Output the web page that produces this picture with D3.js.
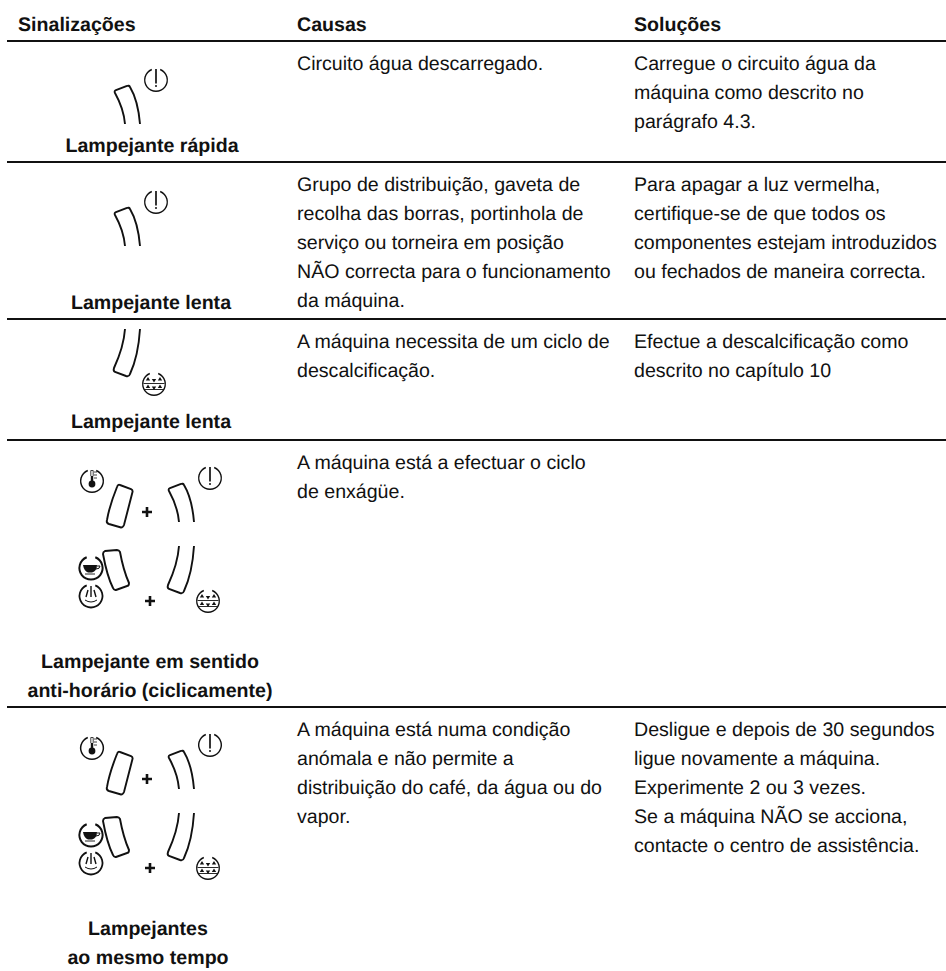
<!DOCTYPE html>
<html>
<head>
<meta charset="utf-8">
<script src="https://cdn.jsdelivr.net/npm/d3@7"></script>
<style>
html, body { margin: 0; background: #fff; }
svg { display: block; }
text { font-family: "Liberation Sans", Arial, sans-serif; fill: #111; text-rendering: geometricPrecision; }
</style>
</head>
<body>
<script>
//Width and height
var w = 946;
var h = 971;

//Table content
var headers = ["Sinalizações", "Causas", "Soluções"];
var rows = ["r1", "r2", "r3", "r4", "r5"];
var signals = [
    ["Lampejante rápida"],
    ["Lampejante lenta"],
    ["Lampejante lenta"],
    ["Lampejante em sentido", "anti-horário (ciclicamente)"],
    ["Lampejantes", "ao mesmo tempo"]
];
var causes = [
    ["Circuito água descarregado."],
    ["Grupo de distribuição, gaveta de", "recolha das borras, portinhola de", "serviço ou torneira em posição", "NÃO correcta para o funcionamento", "da máquina."],
    ["A máquina necessita de um ciclo de", "descalcificação."],
    ["A máquina está a efectuar o ciclo", "de enxágüe."],
    ["A máquina está numa condição", "anómala e não permite a", "distribuição do café, da água ou do", "vapor."]
];
var solutions = [
    ["Carregue o circuito água da", "máquina como descrito no", "parágrafo 4.3."],
    ["Para apagar a luz vermelha,", "certifique-se de que todos os", "componentes estejam introduzidos", "ou fechados de maneira correcta."],
    ["Efectue a descalcificação como", "descrito no capítulo 10"],
    [],
    ["Desligue e depois de 30 segundos", "ligue novamente a máquina.", "Experimente 2 ou 3 vezes.", "Se a máquina NÃO se acciona,", "contacte o centro de assistência."]
];
//Which symbols each row shows
var rowSymbols = [
    ["lampNE", "warn"],
    ["lampNE", "warn"],
    ["lampSE", "descale"],
    ["lampNW", "thermo", "plusTop", "lampNE", "warn", "lampSW", "cup", "steam", "plusBottom", "lampSE", "descale"],
    ["lampNW", "thermo", "plusTop", "lampNE", "warn", "lampSW", "cup", "steam", "plusBottom", "lampSE", "descale"]
];

//Scales
var ruleY = d3.scaleOrdinal().domain(rows).range([162, 319, 440, 707, 1000]);
var rowTop = d3.scaleOrdinal().domain(rows).range([41, 162, 319, 440, 707]);
var labelBase = d3.scaleOrdinal().domain(rows).range([152, 309, 428, 668, 935]);
var symbolDx = d3.scaleOrdinal().domain(rows).range([-54, -54, -54, 0, 0]);
var symbolDy = d3.scaleOrdinal().domain(rows).range([-398, -276, -217, 0, 267]);
var labelX = d3.scaleOrdinal().domain(rows).range([152, 151, 151, 150, 148]);
var colX = d3.scalePoint().domain([1, 2]).range([297, 634]);
var lineY = d3.scaleLinear().domain([0, 1]).range([0, 29]);

var fontSize = 19.6;

//Create SVG element
var svg = d3.select("body")
            .append("svg")
            .attr("width", w)
            .attr("height", h);

//Rules
svg.append("g").selectAll("line")
   .data([41].concat(rows.slice(0, 4).map(function(r) { return ruleY(r); })))
   .enter()
   .append("line")
   .attr("x1", 7)
   .attr("x2", w)
   .attr("y1", function(d) { return d; })
   .attr("y2", function(d) { return d; })
   .attr("stroke", "#111")
   .attr("stroke-width", 2);

//Headers
svg.append("g").selectAll("text")
   .data(headers)
   .enter()
   .append("text")
   .attr("x", function(d, i) { return i == 0 ? 18 : colX(i); })
   .attr("y", 31)
   .attr("font-size", fontSize)
   .attr("font-weight", "bold")
   .text(function(d) { return d; });

//Body text, one function for each text column
function addColumn(lines, col) {
    rows.forEach(function(r, i) {
        svg.append("g").selectAll("text")
           .data(lines[i])
           .enter()
           .append("text")
           .attr("x", colX(col))
           .attr("y", function(d, j) { return rowTop(r) + 29 + lineY(j); })
           .attr("font-size", fontSize)
           .text(function(d) { return d; });
    });
}
addColumn(causes, 1);
addColumn(solutions, 2);

//Signal labels
rows.forEach(function(r, i) {
    svg.append("g").selectAll("text")
       .data(signals[i])
       .enter()
       .append("text")
       .attr("x", labelX(r))
       .attr("y", function(d, j) { return labelBase(r) + lineY(j); })
       .attr("text-anchor", "middle")
       .attr("font-size", fontSize)
       .attr("font-weight", "bold")
       .text(function(d) { return d; });
});

//Symbols, drawn in the frame of row 4
function ring(g, cx, cy, width) {
    var arc = d3.arc().innerRadius(10.6).outerRadius(10.6 + width)
                .startAngle(0.38).endAngle(2 * Math.PI - 0.38);
    g.append("path")
     .attr("transform", "translate(" + cx + "," + cy + ")")
     .attr("d", arc())
     .attr("fill", "#111");
}

function lamp(g, d) {
    g.append("path")
     .attr("d", d)
     .attr("fill", "none")
     .attr("stroke", "#111")
     .attr("stroke-width", 1.9);
}

function plus(g, cx, cy) {
    g.append("path")
     .attr("d", "M" + (cx - 5) + "," + cy + "H" + (cx + 5) + "M" + cx + "," + (cy - 5) + "V" + (cy + 5))
     .attr("stroke", "#111")
     .attr("stroke-width", 2.6);
}

var symbols = {
    lampNE: function(g) { lamp(g, "M179,522C178,510 174,500 169,491Q168,489 170,488L181,484Q183,483 184,485C190,495 193,510 194,522"); },
    lampSE: function(g) { lamp(g, "M179,546C178,560 174,572 168,585Q167,588 169,589L180,593Q183,594 184,591C190,578 193,562 194,546"); },
    lampNW: function(g) { lamp(g, "M120,485L131,489Q133,490 132.5,492L124,525Q123,527.5 121,527.5L109,524Q106,523 107,520C109,508 113,497 117,487Q118,484 120,485Z"); },
    lampSW: function(g) { lamp(g, "M105,551L117,550Q119,550 120,552C122,563 125,574 129,583Q129,586 127,586L116,590Q114,590.5 113,588C108,578 105,565 103,554Q103,552 105,551Z"); },
    plusTop: function(g) { plus(g, 147, 512); },
    plusBottom: function(g) { plus(g, 150, 601); },
    warn: function(g) {
        ring(g, 210, 478, 1.4);
        g.append("path").attr("d", "M210,467V481.5").attr("stroke", "#111").attr("stroke-width", 1.7);
        g.append("circle").attr("cx", 210).attr("cy", 484).attr("r", 1).attr("fill", "#111");
    },
    thermo: function(g) {
        ring(g, 92, 481, 1.5);
        g.append("circle").attr("cx", 92).attr("cy", 484).attr("r", 3.4).attr("fill", "#111");
        g.append("path").attr("d", "M92,476V483").attr("stroke", "#111").attr("stroke-width", 2.4);
        g.append("path").attr("d", "M90.8,476V470.5H93.2V476").attr("fill", "none").attr("stroke", "#111").attr("stroke-width", 0.8);
        g.append("path").attr("d", "M94,472H97M94,475H97M94,478H97").attr("stroke", "#111").attr("stroke-width", 0.8);
    },
    cup: function(g) {
        ring(g, 91, 568, 2);
        g.append("path").attr("d", "M83,565H97Q97,571 92,572.5H88Q84,571 83,565Z").attr("fill", "#111");
        g.append("path").attr("d", "M97,566H100Q100,569 96,569").attr("fill", "none").attr("stroke", "#111");
        g.append("path").attr("d", "M85,574H95").attr("stroke", "#111").attr("stroke-width", 0.9);
    },
    steam: function(g) {
        ring(g, 91, 596, 1.8);
        g.append("path").attr("d", "M91,586V597M88,590L86,597M94,590L96,597").attr("stroke", "#111").attr("stroke-width", 1.4);
        g.append("path").attr("d", "M85,600Q91,604 97,600").attr("fill", "none").attr("stroke", "#111");
    },
    descale: function(g) {
        ring(g, 208, 601, 1.4);
        g.append("path").attr("d", "M197.5,600.5H218.5M198.5,606.5H217.5").attr("stroke", "#111").attr("stroke-width", 0.9);
        g.append("path")
         .attr("d", "M202,594l2.2,3.4h-4.4ZM208,599.5l2.2,-3.4h-4.4ZM214,594l2.2,3.4h-4.4ZM202,601.5l2.2,3.4h-4.4ZM208,607l2.2,-3.4h-4.4ZM214,601.5l2.2,3.4h-4.4Z")
         .attr("fill", "#111");
    }
};

rows.forEach(function(r, i) {
    var g = svg.append("g")
               .attr("transform", "translate(" + symbolDx(r) + "," + symbolDy(r) + ")");
    rowSymbols[i].forEach(function(name) {
        symbols[name](g);
    });
});
</script>
</body>
</html>
